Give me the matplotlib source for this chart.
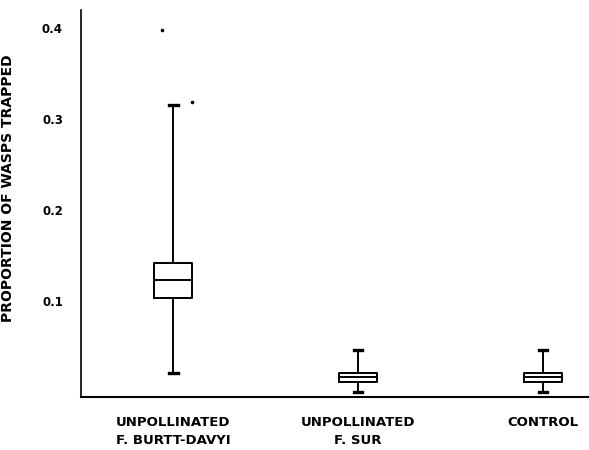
import matplotlib.pyplot as plt

# Box summaries for the proportion of wasps trapped
groups = ["UNPOLLINATED\nF. BURTT-DAVYI", "UNPOLLINATED\nF. SUR", "CONTROL"]
whislo = [0.021, 0.000, 0.000]
q1 = [0.103, 0.011, 0.011]
med = [0.123, 0.016, 0.016]
q3 = [0.142, 0.021, 0.021]
whishi = [0.315, 0.046, 0.046]

# outlying values, with their (jittered) horizontal positions
flier_vals = [0.398, 0.319]
flier_pos = [0.94, 1.10]

stats = []
for i, name in enumerate(groups):
    stats.append(dict(label=name, whislo=whislo[i], q1=q1[i], med=med[i],
                      q3=q3[i], whishi=whishi[i], fliers=[]))

plt.rcParams['font.family'] = 'DejaVu Sans'

fig = plt.figure(figsize=(5.89, 4.5), dpi=100)
ax = fig.add_axes([0.1375, 0.118, 0.8625, 0.86])

line = dict(color='black', linewidth=1.4)
ax.bxp(stats, positions=[1, 2, 3], widths=0.205, capwidths=0.045,
       boxprops=line, medianprops=line, whiskerprops=line,
       capprops=dict(color='black', linewidth=2.4), showfliers=False)
ax.plot(flier_pos, flier_vals, 'ko', markersize=1.6)

ax.set_xlim(0.5, 3.25)
ax.set_ylim(-0.0055, 0.42)
ax.set_yticks([0.1, 0.2, 0.3, 0.4])
ax.set_yticklabels(['0.1', '0.2', '0.3', '0.4'], fontsize=8.5,
                   fontweight='bold')
ax.tick_params(axis='y', length=0, pad=13)
ax.tick_params(axis='x', length=0, pad=14)
for lab in ax.get_xticklabels():
    lab.set_fontsize(9.5)
    lab.set_fontweight('bold')
    lab.set_linespacing(1.5)

ax.spines['top'].set_visible(False)
ax.spines['right'].set_visible(False)
ax.spines['left'].set_linewidth(1.2)
ax.spines['bottom'].set_linewidth(1.5)

ax.set_ylabel('PROPORTION OF WASPS TRAPPED', fontsize=10, fontweight='bold')
ax.yaxis.set_label_coords(-0.13, 0.54)

fig.savefig('out.png', dpi=100)
